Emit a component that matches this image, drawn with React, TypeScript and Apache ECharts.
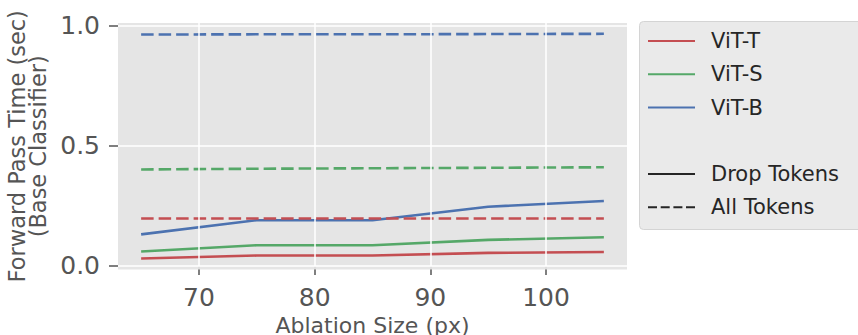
import React, { useEffect, useRef } from "react";
import * as echarts from "echarts";

const sizes = [65, 75, 85, 95, 105];
const dropT = [0.031, 0.043, 0.043, 0.054, 0.058];
const dropS = [0.06, 0.086, 0.086, 0.108, 0.119];
const dropB = [0.131, 0.19, 0.19, 0.246, 0.27];
const allT = [0.197, 0.197, 0.197, 0.197, 0.197];
const allS = [0.401, 0.404, 0.406, 0.408, 0.41];
const allB = [0.962, 0.963, 0.963, 0.964, 0.965];
const xTicks = [70, 80, 90, 100];
const yTicks = [0, 0.5, 1.0];
const modelNames = ["ViT-T", "ViT-S", "ViT-B"];
const styleNames = ["Drop Tokens", "All Tokens"];

const COLORS = ["#C44E52", "#55A868", "#4C72B0"];
const FONT = "DejaVu Sans";
const DASH = [12.5, 5];
const SOLID_ICON = "path://M0,0h47v2h-47z";
const DASH_ICON = "path://M0,0h9v2h-9z M12.7,0h9v2h-9z M25.4,0h9v2h-9z M38,0h9v2h-9z";

export default function App() {
  const ref = useRef<HTMLDivElement>(null);
  useEffect(() => {
    if (!ref.current) return;
    const chart = echarts.init(ref.current, undefined, { renderer: "svg" });
    const pair = (ys: number[]) => sizes.map((x, i) => [x, ys[i]]);
    const drops = [dropT, dropS, dropB];
    const alls = [allT, allS, allB];
    const series: any[] = [];
    series.push({
      name: "grid",
      type: "line",
      data: [],
      z: 1,
      silent: true,
      markLine: {
        silent: true,
        symbol: "none",
        label: { show: false },
        lineStyle: { color: "#ffffff", width: 1.5, type: "solid" },
        emphasis: { disabled: true },
        data: [
          ...xTicks.map((v) => ({ xAxis: v })),
          ...yTicks.map((v) => ({ yAxis: v })),
        ],
      },
    });
    modelNames.forEach((name, i) => {
      series.push({
        name,
        type: "line",
        data: pair(drops[i]),
        symbol: "none",
        lineStyle: { color: COLORS[i], width: 2.6, type: "solid" },
        itemStyle: { color: COLORS[i] },
        z: 3,
      });
    });
    modelNames.forEach((name, i) => {
      series.push({
        name,
        type: "line",
        data: pair(alls[i]),
        symbol: "none",
        lineStyle: { color: COLORS[i], width: 2.6, type: DASH },
        itemStyle: { color: COLORS[i] },
        z: 3,
      });
    });
    styleNames.forEach((name) => {
      series.push({
        name,
        type: "line",
        data: [],
        symbol: "none",
        itemStyle: { color: "#262626" },
      });
    });

    const legendCommon = {
      orient: "vertical",
      left: 643,
      itemWidth: 47,
      itemHeight: 2,
      itemGap: 11.3,
      textStyle: {
        fontFamily: FONT,
        fontSize: 21,
        color: "#262626",
        lineHeight: 22,
        padding: [0, 0, 0, 11],
      },
      selectedMode: false,
    };

    chart.setOption({
      animation: false,
      backgroundColor: "#ffffff",
      graphic: [
        {
          type: "rect",
          left: 639,
          top: 21,
          shape: { width: 240, height: 208, r: 4 },
          style: { fill: "#EAEAEA", stroke: "#D4D4D4", lineWidth: 1 },
          z: -1,
          silent: true,
        },
      ],
      grid: {
        left: 118,
        right: 231,
        top: 23,
        bottom: 65.5,
        show: true,
        backgroundColor: "#E5E5E5",
        borderWidth: 0,
        containLabel: false,
        outerBoundsMode: "none",
      },
      legend: [
        {
          ...legendCommon,
          top: 25,
          data: modelNames.map((n, i) => ({
            name: n,
            icon: SOLID_ICON,
            itemStyle: { color: COLORS[i] },
          })),
        },
        {
          ...legendCommon,
          top: 158,
          data: [
            { name: styleNames[0], icon: SOLID_ICON, itemStyle: { color: "#262626" } },
            { name: styleNames[1], icon: DASH_ICON, itemStyle: { color: "#262626" } },
          ],
        },
      ],
      xAxis: {
        type: "value",
        min: 63,
        max: 107,
        splitNumber: 4,
        name: "Ablation Size (px)",
        nameLocation: "middle",
        nameGap: 45,
        nameTextStyle: { fontFamily: FONT, fontSize: 22, color: "#555555" },
        axisLine: { show: false },
        axisTick: {
          show: true,
          length: 9,
          lineStyle: { color: "#555555", width: 1.5 },
          customValues: xTicks,
        },
        axisLabel: {
          fontFamily: FONT,
          fontSize: 25,
          color: "#555555",
          margin: 15,
          customValues: xTicks,
        },
        splitLine: { show: false },
      },
      yAxis: {
        type: "value",
        min: -0.015,
        max: 1.01,
        splitNumber: 2,
        name: "Forward Pass Time (sec)\n(Base Classifier)",
        nameLocation: "middle",
        nameRotate: 90,
        nameGap: 56,
        nameTextStyle: {
          fontFamily: FONT,
          fontSize: 22.5,
          color: "#555555",
          lineHeight: 21,
          align: "center",
        },
        axisLine: { show: false },
        axisTick: {
          show: true,
          length: 9,
          lineStyle: { color: "#555555", width: 1.5 },
          customValues: yTicks,
        },
        axisLabel: {
          fontFamily: FONT,
          fontSize: 25,
          color: "#555555",
          margin: 18,
          customValues: yTicks,
          formatter: (v: number) => v.toFixed(1),
        },
        splitLine: { show: false },
      },
      series,
    });
    return () => chart.dispose();
  }, []);
  return (
    <div
      ref={ref}
      style={{ position: "fixed", left: 0, top: 0, width: 858, height: 335 }}
    />
  );
}
